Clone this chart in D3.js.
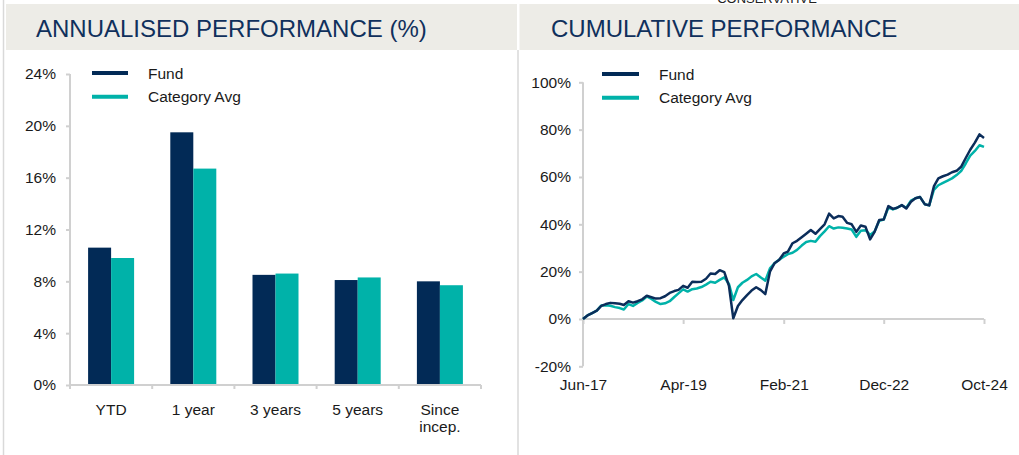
<!DOCTYPE html>
<html>
<head>
<meta charset="utf-8">
<script src="https://cdn.jsdelivr.net/npm/d3@7"></script>
<style>
  body { margin: 0; background: #fff; }
  svg { display: block; font-family: "Liberation Sans", Arial, sans-serif; }
</style>
</head>
<body>
<div id="canvas"></div>
<script>
// bar chart data
var periods = ["YTD", "1 year", "3 years", "5 years", "Since incep."]
var fundAnnual = [10.6, 19.5, 8.5, 8.1, 8.0]
var catAnnual = [9.8, 16.7, 8.6, 8.3, 7.7]
var barTicks = [0, 4, 8, 12, 16, 20, 24]

// cumulative performance, monthly from Jun-17 to Oct-24
var startMonth = new Date(2017, 5, 1)
var fundCum = [0, 1.5, 2.5, 3.5, 5.5, 6.3, 6.8, 6.6, 6.4, 5.9, 7.5, 6.9, 7.5, 8.3, 9.8, 9.2, 8.6, 8.8,
    9.6, 11.0, 11.8, 12.3, 14.0, 13.2, 15.7, 15.6, 15.7, 17.0, 19.2, 19.0, 20.6, 19.8, 14.0, 0.3,
    5.5, 8.0, 10.1, 12.0, 13.4, 12.2, 10.5, 20.0, 23.5, 24.9, 27.7, 28.5, 32.0, 33.0, 34.5, 36.0,
    37.6, 36.0, 38.0, 40.0, 44.5, 42.5, 43.5, 43.2, 40.6, 40.0, 36.8, 39.5, 39.0, 33.6, 36.8, 41.8,
    42.0, 47.7, 46.5, 47.0, 48.1, 46.7, 49.5, 51.0, 51.5, 48.5, 48.0, 56.0, 59.4, 60.3, 61.0, 62.0,
    62.6, 64.3, 68.0, 71.5, 74.5, 78.0, 76.5]
var catCum = [0, 1.5, 2.5, 3.5, 5.7, 5.8, 5.6, 5.0, 4.6, 4.0, 6.3, 5.5, 6.8, 7.8, 9.5, 8.5, 7.2, 6.3,
    6.6, 7.5, 9.3, 10.8, 12.5, 11.6, 12.6, 12.9, 13.5, 14.5, 15.7, 15.3, 16.5, 17.6, 14.8, 8.0,
    13.4, 15.3, 16.5, 18.0, 19.0, 17.5, 16.2, 21.4, 23.5, 25.0, 26.3, 27.4, 28.0, 29.2, 31.0, 32.5,
    33.0, 32.6, 35.0, 37.0, 39.2, 38.2, 38.7, 38.5, 38.2, 37.8, 34.7, 37.3, 37.5, 35.5, 37.0, 41.5,
    42.0, 47.1, 46.3, 47.0, 48.0, 47.0, 50.0, 51.0, 51.5, 48.5, 48.0, 54.5, 56.5, 57.5, 58.5, 59.4,
    60.8, 62.5, 65.7, 69.0, 71.0, 73.4, 72.7]
var cumTicks = [-20, 0, 20, 40, 60, 80, 100]
var dateTicks = [new Date(2017, 5, 1), new Date(2019, 3, 1), new Date(2021, 1, 1), new Date(2022, 11, 1), new Date(2024, 9, 1)]

var seriesNames = ["Fund", "Category Avg"]
var navy = "#022a56"
var teal = "#00b2a9"
var axisGrey = "#d0d0d0"
var textColor = "#1a1a1a"
var fontSize = "15.5px"

var width = 1019
var height = 455

var svg = d3.select("#canvas")
    .append("svg")
    .attr("width", width)
    .attr("height", height)

// panel frame and headers
svg.append("line").attr("x1", 3.5).attr("x2", 3.5).attr("y1", 0).attr("y2", height)
    .attr("stroke", "#d9d9d9").attr("stroke-width", 1.5)
svg.append("line").attr("x1", 518).attr("x2", 518).attr("y1", 50).attr("y2", height)
    .attr("stroke", "#d9d9d9").attr("stroke-width", 1.5)

svg.append("text").attr("x", 767).attr("y", 3).attr("text-anchor", "middle")
    .style("font-size", "13px").attr("fill", "#222").text("CONSERVATIVE")

svg.append("rect").attr("x", 6).attr("y", 4).attr("width", 511).attr("height", 46).attr("fill", "#edece7")
svg.append("rect").attr("x", 519.5).attr("y", 4).attr("width", 500).attr("height", 46).attr("fill", "#edece7")

svg.append("text").attr("x", 36).attr("y", 37).style("font-size", "24px").attr("fill", "#10305c")
    .text("ANNUALISED PERFORMANCE (%)")
svg.append("text").attr("x", 551).attr("y", 37).style("font-size", "24px").attr("fill", "#10305c")
    .text("CUMULATIVE PERFORMANCE")

// ---------- bar chart ----------
var x0 = d3.scaleBand().domain(periods).range([70, 481])
var x1 = d3.scaleBand().domain(seriesNames)
    .range([x0.bandwidth() / 2 - 23, x0.bandwidth() / 2 + 23])
var yBar = d3.scaleLinear().domain([0, 24]).range([385, 74])

var barData = periods.map(function (p, i) {
    return { period: p, values: [fundAnnual[i], catAnnual[i]] }
})

var groups = svg.append("g").selectAll(".group")
    .data(barData)
    .enter().append("g")
    .attr("transform", function (d) { return "translate(" + x0(d.period) + ",0)" })

groups.selectAll("rect")
    .data(function (d) { return d.values.map(function (v, i) { return { name: seriesNames[i], value: v } }) })
    .enter().append("rect")
    .attr("x", function (d) { return x1(d.name) })
    .attr("width", x1.bandwidth())
    .attr("y", function (d) { return yBar(d.value) })
    .attr("height", function (d) { return yBar(0) - yBar(d.value) })
    .attr("fill", function (d) { return d.name == "Fund" ? navy : teal })

var yAxisBar = svg.append("g")
    .attr("transform", "translate(70,0)")
    .call(d3.axisLeft(yBar).tickValues(barTicks).tickSize(4).tickPadding(10)
        .tickFormat(function (d) { return d + "%" }))
var xAxisBar = svg.append("g")
    .attr("transform", "translate(0,385)")
    .call(d3.axisBottom(x0).tickSize(0).tickPadding(19))

// boundary ticks between categories
svg.append("g").selectAll("line")
    .data(periods.concat(["end"]))
    .enter().append("line")
    .attr("x1", function (d, i) { return 70 + i * x0.bandwidth() })
    .attr("x2", function (d, i) { return 70 + i * x0.bandwidth() })
    .attr("y1", 385).attr("y2", 389)
    .attr("stroke", axisGrey).attr("stroke-width", 2)

// two line label for "Since incep."
xAxisBar.selectAll(".tick text")
    .filter(function (d) { return d == "Since incep." })
    .text(null)
    .each(function () {
        var t = d3.select(this)
        t.append("tspan").attr("x", 0).attr("dy", "0.71em").text("Since")
        t.append("tspan").attr("x", 0).attr("dy", "1.1em").text("incep.")
    })

// legend (left)
var legendL = svg.append("g")
seriesNames.forEach(function (n, i) {
    legendL.append("line").attr("x1", 92).attr("x2", 128)
        .attr("y1", 73 + i * 23.7).attr("y2", 73 + i * 23.7)
        .attr("stroke", i == 0 ? navy : teal).attr("stroke-width", 4)
    legendL.append("text").attr("x", 148).attr("y", 78.5 + i * 23.7)
        .style("font-size", fontSize).attr("fill", textColor).text(n)
})

// ---------- line chart ----------
var dates = fundCum.map(function (v, i) { return d3.timeMonth.offset(startMonth, i) })
var xLine = d3.scaleTime().domain([dates[0], dates[dates.length - 1]]).range([583, 984])
var yLine = d3.scaleLinear().domain([-20, 100]).range([366.3, 82.3])

var yAxisLine = svg.append("g")
    .attr("transform", "translate(583,0)")
    .call(d3.axisLeft(yLine).tickValues(cumTicks).tickSize(4).tickPadding(8)
        .tickFormat(function (d) { return d + "%" }))
var xAxisLine = svg.append("g")
    .attr("transform", "translate(0," + yLine(0) + ")")
    .call(d3.axisBottom(xLine).tickValues(dateTicks).tickSize(5).tickPadding(0)
        .tickFormat(d3.timeFormat("%b-%y")))
xAxisLine.selectAll(".tick text").attr("y", yLine(-20) - yLine(0) + 13)

var line = d3.line()
    .x(function (d, i) { return xLine(dates[i]) })
    .y(function (d) { return yLine(d) })

svg.append("path").datum(catCum)
    .attr("d", line).attr("fill", "none")
    .attr("stroke", teal).attr("stroke-width", 2.5).attr("stroke-linejoin", "round")
svg.append("path").datum(fundCum)
    .attr("d", line).attr("fill", "none")
    .attr("stroke", "#0b2d5a").attr("stroke-width", 2.5).attr("stroke-linejoin", "round")

// legend (right)
var legendR = svg.append("g")
seriesNames.forEach(function (n, i) {
    legendR.append("line").attr("x1", 602).attr("x2", 639)
        .attr("y1", 74 + i * 23.7).attr("y2", 74 + i * 23.7)
        .attr("stroke", i == 0 ? navy : teal).attr("stroke-width", 4)
    legendR.append("text").attr("x", 659).attr("y", 79.5 + i * 23.7)
        .style("font-size", fontSize).attr("fill", textColor).text(n)
})

// axis styling
svg.selectAll(".domain").attr("stroke", axisGrey).attr("stroke-width", 2)
svg.selectAll(".tick line").attr("stroke", axisGrey).attr("stroke-width", 2)
svg.selectAll(".tick text").style("font-size", fontSize).attr("fill", textColor)
    .style("font-family", "'Liberation Sans', Arial, sans-serif")
// hide the outer tick stubs d3 adds to the domain path
yAxisBar.select(".domain").attr("d", "M0,385V74")
yAxisLine.select(".domain").attr("d", "M0," + yLine(-20) + "V" + yLine(100))
xAxisBar.select(".domain").attr("d", "M70,0H481")
xAxisLine.select(".domain").attr("d", "M583,0H984")
</script>
</body>
</html>
